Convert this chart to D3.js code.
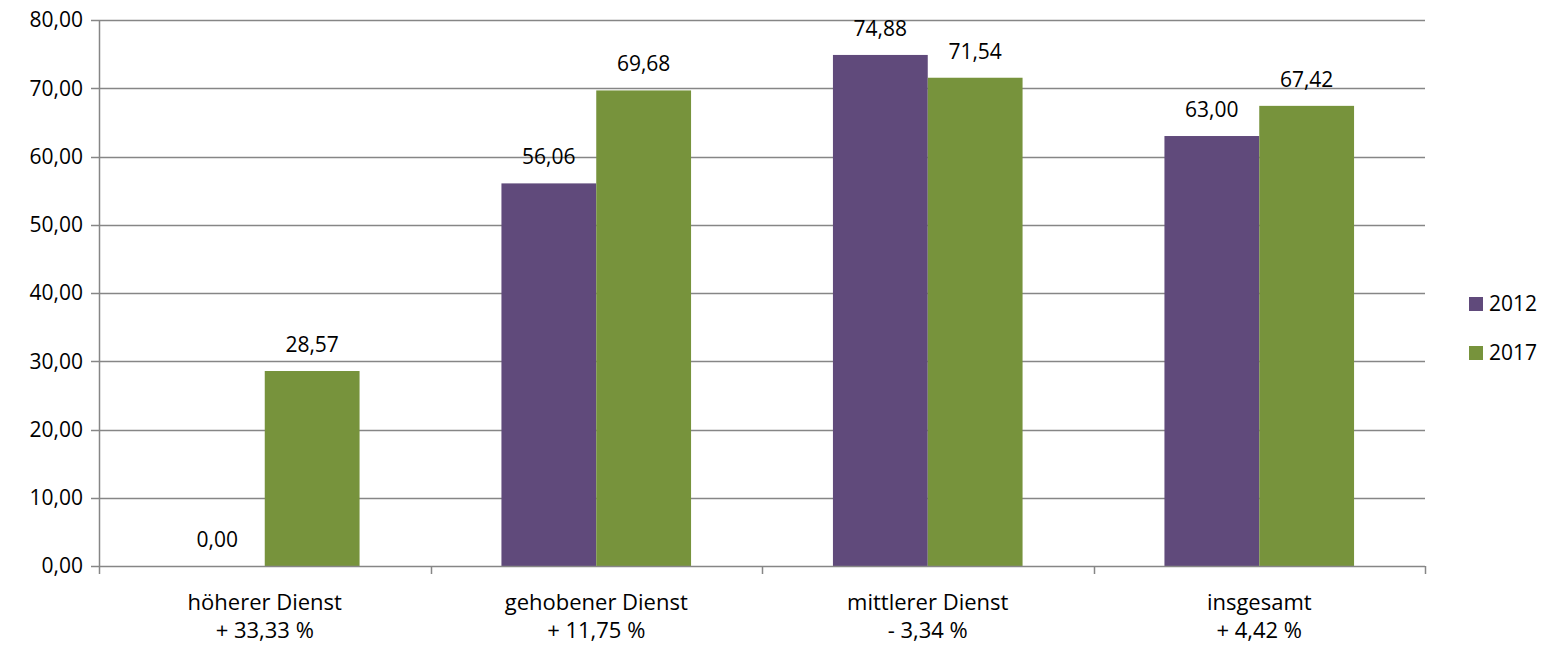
<!DOCTYPE html>
<html>
<head>
<meta charset="utf-8">
<script src="https://cdn.jsdelivr.net/npm/d3@7"></script>
<style>
  html, body { margin: 0; padding: 0; background: #fff; }
  svg { display: block; font-family: "Open Sans", "Noto Sans", sans-serif; }
</style>
</head>
<body>
<svg id="chart" width="1549" height="645"></svg>
<script>
// Categories (two-line labels) and the yearly series
const categories = ["höherer Dienst", "gehobener Dienst", "mittlerer Dienst", "insgesamt"];
const changeLabels = ["+ 33,33 %", "+ 11,75 %", "- 3,34 %", "+ 4,42 %"];
const years = ["2012", "2017"];
const values2012 = [0.00, 56.06, 74.88, 63.00];
const values2017 = [28.57, 69.68, 71.54, 67.42];
const yTicks = [0, 10, 20, 30, 40, 50, 60, 70, 80];

const colors = { "2012": "#604A7B", "2017": "#77933C" };
const gridColor = "#868686";

const svg = d3.select("#chart");
const margin = { left: 99, right: 124, top: 20, bottom: 79 };
const W = 1549, H = 645;
const plotW = W - margin.left - margin.right;
const plotH = H - margin.top - margin.bottom;

const g = svg.append("g").attr("transform", `translate(${margin.left},${margin.top})`);

const x0 = d3.scaleBand().domain(categories).range([0, plotW]).paddingInner(0).paddingOuter(0);
const innerPad = 0.214;
const x1 = d3.scaleBand().domain(years)
  .range([x0.bandwidth() * innerPad, x0.bandwidth() * (1 - innerPad)]);
const y = d3.scaleLinear().domain([0, 80]).range([plotH, 0]);

const fmt = v => v.toFixed(2).replace(".", ",");

// Horizontal gridlines with short ticks left of the axis
g.append("g").selectAll("line").data(yTicks.filter(t => t > 0)).join("line")
  .attr("x1", -8).attr("x2", plotW)
  .attr("y1", d => Math.round(y(d)) + 0.5).attr("y2", d => Math.round(y(d)) + 0.5)
  .attr("stroke", gridColor).attr("stroke-width", 1.5);

// Y tick labels
g.append("g").selectAll("text").data(yTicks).join("text")
  .attr("x", -16).attr("y", d => y(d)).attr("dy", "0.35em")
  .attr("text-anchor", "end").attr("font-size", 21).attr("fill", "#000")
  .text(d => fmt(d));

// Bars
const series = years.map(yr => ({ year: yr, values: yr === "2012" ? values2012 : values2017 }));
const barData = [];
categories.forEach((c, i) => series.forEach(s => barData.push({ cat: c, year: s.year, value: s.values[i] })));

g.append("g").selectAll("rect").data(barData).join("rect")
  .attr("x", d => x0(d.cat) + x1(d.year))
  .attr("width", x1.bandwidth())
  .attr("y", d => y(d.value))
  .attr("height", d => y(0) - y(d.value))
  .attr("fill", d => colors[d.year]);

// Value labels above bars
g.append("g").selectAll("text").data(barData).join("text")
  .attr("x", d => x0(d.cat) + x1(d.year) + x1.bandwidth() / 2)
  .attr("y", d => y(d.value) - 19)
  .attr("text-anchor", "middle").attr("font-size", 21).attr("fill", "#000")
  .text(d => fmt(d.value));

// Axes lines
g.append("line").attr("x1", 0.5).attr("x2", 0.5).attr("y1", 0).attr("y2", plotH)
  .attr("stroke", gridColor).attr("stroke-width", 1.5);
g.append("line").attr("x1", -8).attr("x2", plotW).attr("y1", plotH + 0.5).attr("y2", plotH + 0.5)
  .attr("stroke", gridColor).attr("stroke-width", 1.5);

// Category separators below x axis
const sepPos = categories.map(c => x0(c)).concat([plotW]);
g.append("g").selectAll("line").data(sepPos).join("line")
  .attr("x1", d => Math.round(d) + 0.5).attr("x2", d => Math.round(d) + 0.5)
  .attr("y1", plotH).attr("y2", plotH + 8)
  .attr("stroke", gridColor).attr("stroke-width", 1.5);

// Category labels (two lines)
const catG = g.append("g").selectAll("text").data(categories).join("text")
  .attr("text-anchor", "middle").attr("font-size", 22).attr("fill", "#000");
catG.append("tspan")
  .attr("x", d => x0(d) + x0.bandwidth() / 2).attr("y", plotH + 44)
  .text(d => d);
catG.append("tspan")
  .attr("x", d => x0(d) + x0.bandwidth() / 2).attr("y", plotH + 72)
  .text((d, i) => changeLabels[i]);

// Legend
const legend = svg.append("g").attr("transform", "translate(1469,297)");
years.forEach((yr, i) => {
  const row = legend.append("g").attr("transform", `translate(0,${i * 49})`);
  row.append("rect").attr("width", 14).attr("height", 14).attr("fill", colors[yr]);
  row.append("text").attr("x", 20).attr("y", 7).attr("dy", "0.35em")
    .attr("font-size", 21).attr("fill", "#000").text(yr);
});
</script>
</body>
</html>
